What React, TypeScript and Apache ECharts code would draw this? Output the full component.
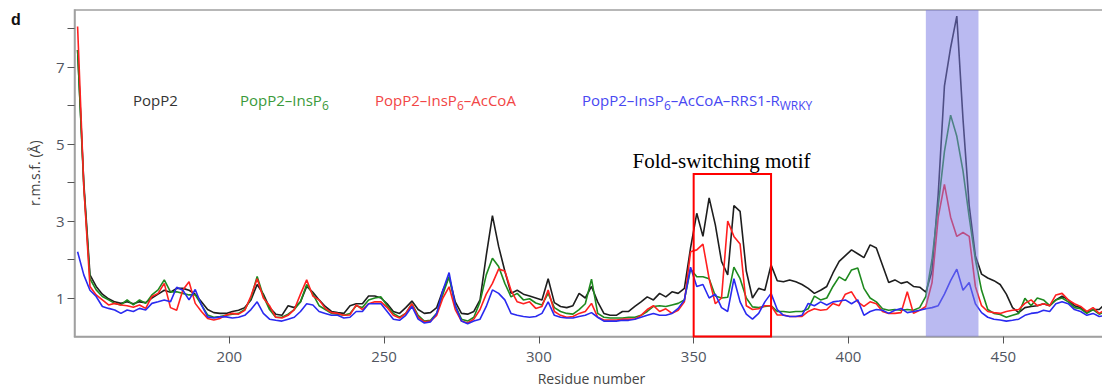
import React, { useEffect, useRef } from "react";
import * as echarts from "echarts";

// Residue numbers (x categories)
const residues = [
  151, 153, 155, 157, 159, 161, 163, 165, 167, 169, 171, 173, 175, 177, 179, 181, 183, 185, 187, 189, 191, 193, 195, 197, 199,
  201, 203, 205, 207, 209, 211, 213, 215, 217, 219, 221, 223, 225, 227, 229, 231, 233, 235, 237, 239, 241, 243, 245, 247, 249,
  251, 253, 255, 257, 259, 261, 263, 265, 267, 269, 271, 273, 275, 277, 279, 281, 283, 285, 287, 289, 291, 293, 295, 297, 299,
  301, 303, 305, 307, 309, 311, 313, 315, 317, 319, 321, 323, 325, 327, 329, 331, 333, 335, 337, 339, 341, 343, 345, 347, 349,
  351, 353, 355, 357, 359, 361, 363, 365, 367, 369, 371, 373, 375, 377, 379, 381, 383, 385, 387, 389, 391, 393, 395, 397, 399,
  401, 403, 405, 407, 409, 411, 413, 415, 417, 419, 421, 423, 425, 427, 429, 431, 433, 435, 437, 439, 441, 443, 445, 447, 449,
  451, 453, 455, 457, 459, 461, 463, 465, 467, 469, 471, 473, 475, 477, 479, 481, 483, 485,
];

// PopP2 (black)
const popP2 = [
  7.44, 4.0, 1.6, 1.3, 1.1, 0.98, 0.9, 0.86, 0.9, 0.85, 0.9, 0.88, 1.0, 1.1, 1.2, 1.15, 1.25, 1.25, 1.2, 1.1, 0.9, 0.7, 0.62, 0.6, 0.6, 0.65,
  0.68, 0.75, 0.95, 1.35, 1.1, 0.75, 0.58, 0.55, 0.8, 0.75, 0.9, 1.3, 1.15, 0.95, 0.78, 0.65, 0.62, 0.6, 0.8, 0.85,
  0.85, 1.05, 1.05, 1.0, 0.85, 0.65, 0.6, 0.75, 0.92, 0.7, 0.6, 0.62, 0.75, 1.2, 1.55, 0.9, 0.6, 0.58, 0.65,
  0.95, 2.1, 3.14, 2.34, 1.7, 1.12, 1.2, 1.1, 1.05, 1.0, 0.95, 1.5, 0.88, 0.78, 0.75,
  0.8, 1.12, 1.0, 1.3, 0.9, 0.6, 0.55, 0.55, 0.65, 0.65, 0.78, 0.9, 1.03, 0.95, 1.12, 1.03, 1.16, 1.12, 1.25,
  2.3, 3.2, 2.6, 3.6, 2.9, 1.95, 1.6, 3.4, 3.25, 1.7, 1.0, 1.25, 1.2, 1.86,
  1.45, 1.42, 1.47, 1.42, 1.35, 1.25, 1.12, 1.2, 1.3, 1.65, 1.95, 2.1, 2.25, 2.15, 2.05, 2.38, 2.3, 1.85, 1.4, 1.47, 1.38, 1.42, 1.3, 1.28, 1.15,
  1.7, 3.7, 6.5, 7.5, 8.32, 5.65, 3.4, 2.1, 1.62, 1.52, 1.45, 1.35, 1.1, 0.75,
  0.62, 0.75, 0.78, 0.8, 0.85, 0.8, 0.95, 1.05, 0.95, 0.8, 0.75, 0.62, 0.7, 0.7, 0.86, 0.75,
];

// PopP2–InsP6 (green)
const popP2InsP6 = [
  7.44, 3.9, 1.5, 1.21, 1.04, 0.95, 0.86, 0.82, 0.95, 0.82, 0.95, 0.86, 1.08, 1.21, 1.47, 1.16, 1.16, 1.12, 1.08, 1.08, 0.82, 0.56, 0.5, 0.52, 0.55, 0.58,
  0.6, 0.7, 1.0, 1.56, 1.05, 0.7, 0.5, 0.5, 0.58, 0.7, 0.9, 1.35, 1.1, 0.8, 0.7, 0.6, 0.58, 0.55, 0.6, 0.8,
  0.75, 0.95, 1.0, 1.03, 0.8, 0.6, 0.5, 0.6, 0.85, 0.55, 0.4, 0.42, 0.6, 1.1, 1.55, 0.8, 0.45, 0.4, 0.5,
  0.9, 1.6, 2.03, 1.82, 1.38, 1.03, 1.12, 0.95, 0.98, 0.87, 0.82, 1.12, 0.75, 0.65, 0.6,
  0.58, 0.7, 0.85, 1.49, 0.6, 0.5, 0.48, 0.48, 0.48, 0.5, 0.5, 0.55, 0.65, 0.78, 0.8, 0.78, 0.82, 0.86, 0.95,
  1.75, 1.55, 1.55, 1.5, 1.05, 1.0, 1.02, 1.8, 1.5, 1.0, 0.77, 0.75, 0.78, 0.8,
  0.65, 0.65, 0.63, 0.65, 0.65, 0.72, 1.05, 0.95, 1.0, 1.3, 1.55, 1.45, 1.73, 1.78, 1.25, 1.0, 0.9, 0.72, 0.68, 0.7, 0.68, 0.7, 0.68, 0.75, 1.04,
  2.0, 3.4, 4.8, 5.75, 5.2, 4.3, 3.1, 2.0, 1.2, 0.7, 0.6, 0.57, 0.5, 0.55,
  0.6, 0.99, 0.8, 1.0, 0.95, 0.8, 0.95, 1.0, 0.9, 0.75, 0.72, 0.6, 0.7, 0.58, 0.65, 0.6,
];

// PopP2–InsP6–AcCoA (red)
const popP2InsP6AcCoA = [
  8.05, 3.9, 1.3, 1.08, 0.95, 0.82, 0.86, 0.82, 0.8, 0.76, 0.82, 0.73, 1.04, 1.12, 1.38, 0.75, 0.68, 1.21, 1.42, 0.86, 0.65, 0.47, 0.43, 0.47, 0.56, 0.6,
  0.58, 0.68, 1.05, 1.5, 1.0, 0.8, 0.5, 0.48, 0.55, 0.7, 1.1, 1.47, 1.05, 0.95, 0.73, 0.62, 0.6, 0.55, 0.56, 0.82,
  0.7, 0.85, 0.9, 0.9, 0.75, 0.55, 0.48, 0.6, 0.85, 0.5, 0.38, 0.4, 0.55, 1.0, 1.29, 0.7, 0.4, 0.35, 0.45,
  0.7, 1.1, 1.38, 1.75, 1.7, 1.2, 0.9, 0.85, 0.9, 0.73, 0.78, 1.21, 0.65, 0.55, 0.5,
  0.52, 0.6, 0.65, 0.86, 0.5, 0.43, 0.43, 0.43, 0.45, 0.45, 0.45, 0.55, 0.7, 0.8, 0.65, 0.72, 0.6, 0.68, 0.9,
  2.2, 2.25, 2.4, 1.5, 0.85, 1.0, 3.0, 2.6, 2.4, 0.8, 0.7, 0.72, 0.8, 0.8,
  0.56, 0.56, 0.52, 0.52, 0.52, 0.65, 0.72, 0.68, 0.7, 0.86, 0.8, 1.1, 1.16, 0.9, 0.78, 0.9, 0.85, 0.65, 0.6, 0.6, 0.62, 1.16, 0.6, 0.68, 0.78,
  1.4, 3.1, 3.95, 3.1, 2.6, 2.7, 2.6, 1.3, 0.8, 0.65, 0.62, 0.6, 0.65, 0.68,
  0.7, 0.86, 0.95, 0.8, 0.85, 0.8, 1.08, 1.12, 0.95, 0.85, 0.78, 0.65, 0.75, 0.6, 0.7, 0.65,
];

// PopP2–InsP6–AcCoA–RRS1-R WRKY (blue)
const popP2Complex = [
  2.2, 1.6, 1.2, 1.04, 0.78, 0.73, 0.69, 0.6, 0.69, 0.65, 0.73, 0.69, 0.86, 0.9, 0.95, 0.9, 1.28, 1.2, 0.95, 1.22, 0.82, 0.51, 0.48, 0.51, 0.51, 0.48,
  0.5, 0.55, 0.7, 0.9, 0.6, 0.45, 0.42, 0.4, 0.45, 0.5, 0.65, 0.85, 0.82, 0.65, 0.6, 0.55, 0.55, 0.48, 0.5, 0.65,
  0.65, 0.85, 0.85, 0.85, 0.65, 0.45, 0.42, 0.55, 0.78, 0.45, 0.35, 0.38, 0.6, 1.2, 1.66, 0.8, 0.4, 0.33, 0.4,
  0.45, 0.78, 1.21, 1.12, 0.95, 0.6, 0.55, 0.52, 0.5, 0.52, 0.6, 0.9, 0.55, 0.5, 0.48,
  0.48, 0.52, 0.55, 0.62, 0.5, 0.4, 0.4, 0.4, 0.42, 0.42, 0.45, 0.5, 0.55, 0.6, 0.55, 0.55, 0.6, 0.73, 0.95,
  1.8, 1.3, 1.35, 1.0, 1.1, 0.75, 0.65, 1.5, 0.9, 0.58, 0.45, 0.6, 0.9, 1.12,
  0.7, 0.55, 0.52, 0.52, 0.55, 0.86, 0.8, 0.9, 0.82, 0.9, 0.92, 0.95, 0.85, 0.95, 0.55, 0.65, 0.7, 0.68, 0.6, 0.68, 0.73, 0.62, 0.65, 0.68, 0.72,
  0.75, 0.8, 1.1, 1.45, 1.75, 1.2, 1.4, 0.85, 0.62, 0.5, 0.45, 0.43, 0.4, 0.42,
  0.45, 0.55, 0.6, 0.62, 0.68, 0.65, 0.85, 0.9, 0.85, 0.7, 0.65, 0.55, 0.6, 0.52, 0.55, 0.55,
];

const xTicks = [200, 250, 300, 350, 400, 450];
const yTicks = [1, 2, 3, 4, 5, 6, 7, 8];
const yLabels = [1, 3, 5, 7];
const shadedRange = [425, 442];
// [x start, x end, top value, label anchor residue]
const motifBox = [350, 375, 4.22, 359];
const motifLabel = "Fold-switching motif";

const FONT = '"Open Sans", "Noto Sans", sans-serif';

export default function App() {
  const ref = useRef<HTMLDivElement>(null);

  useEffect(() => {
    const chart = echarts.init(ref.current!, null, { renderer: "svg" });
    const pairs = (vals: number[]) => residues.map((r, i) => [r, vals[i]]);
    const lineSeries = (name: string, vals: number[], color: string) => ({
      name,
      type: "line",
      data: pairs(vals),
      symbol: "none",
      showSymbol: false,
      silent: true,
      z: 2,
      lineStyle: { width: 1.6, color },
      itemStyle: { color },
    });

    const legendText = (x: number, main: string, sub: string, tail: string, sub2: string, color: string) => ({
      type: "text",
      x,
      y: 100,
      silent: true,
      style: {
        text:
          "{m|" + main + "}" +
          (sub ? "{s|" + sub + "}" : "") +
          (tail ? "{m|" + tail + "}" : "") +
          (sub2 ? "{s|" + sub2 + "}" : ""),
        align: "left",
        verticalAlign: "middle",
        rich: {
          m: { fontSize: 15, fontFamily: FONT, fill: color, lineHeight: 22 },
          s: { fontSize: 12, fontFamily: FONT, fill: color, lineHeight: 12, verticalAlign: "bottom" },
        },
      },
    });

    const option: any = {
      animation: false,
      backgroundColor: "#ffffff",
      grid: {
        left: 74.5,
        top: 10,
        width: 1034,
        height: 326.5,
        show: true,
        borderColor: "#a0a0a0",
        borderWidth: 1.5,
        containLabel: false,
        outerBoundsMode: "none",
      },
      xAxis: {
        type: "value",
        min: 150,
        max: 484,
        interval: 50,
        name: "Residue number",
        nameLocation: "middle",
        nameGap: 35,
        nameTextStyle: { fontSize: 14, color: "#444", fontFamily: FONT },
        axisLine: { show: true, lineStyle: { color: "#a0a0a0", width: 1.5 } },
        axisTick: { show: true, customValues: xTicks, length: 7, inside: false, lineStyle: { color: "#555", width: 1 } },
        axisLabel: {
          customValues: xTicks,
          margin: 12,
          fontSize: 15,
          color: "#505560",
          fontFamily: FONT,
          formatter: (v: number) => (xTicks.includes(v) ? String(v) : ""),
        },
        splitLine: { show: false },
      },
      yAxis: {
        type: "value",
        min: 0,
        max: 8.48,
        interval: 1,
        name: "r.m.s.f. (Å)",
        nameLocation: "middle",
        nameGap: 33,
        nameTextStyle: { fontSize: 14, color: "#444", fontFamily: FONT },
        axisLine: { show: true, lineStyle: { color: "#a0a0a0", width: 1.5 } },
        axisTick: { show: true, customValues: yTicks, length: 7, inside: false, lineStyle: { color: "#555", width: 1 } },
        axisLabel: {
          customValues: yLabels,
          margin: 10,
          fontSize: 15,
          color: "#505560",
          fontFamily: FONT,
          formatter: (v: number) => (yLabels.includes(v) ? String(v) : ""),
        },
        splitLine: { show: false },
      },
      series: [
        lineSeries("PopP2", popP2, "#1e1e1e"),
        lineSeries("PopP2–InsP6", popP2InsP6, "#1f8a1f"),
        lineSeries("PopP2–InsP6–AcCoA", popP2InsP6AcCoA, "#ff2020"),
        lineSeries("PopP2–InsP6–AcCoA–RRS1-RWRKY", popP2Complex, "#2a2af0"),
        {
          type: "custom",
          name: "shade",
          silent: true,
          z: 5,
          data: [shadedRange],
          renderItem: (params: any, api: any) => {
            const cs = params.coordSys;
            const x0 = api.coord([api.value(0), 0])[0];
            const x1 = api.coord([api.value(1), 0])[0];
            return {
              type: "rect",
              shape: { x: x0, y: cs.y, width: x1 - x0, height: cs.height },
              style: { fill: "rgba(122,122,228,0.52)" },
            };
          },
        },
        {
          type: "custom",
          name: "motif",
          silent: true,
          z: 6,
          data: [motifBox],
          renderItem: (params: any, api: any) => {
            const p0 = api.coord([api.value(0), api.value(2)]);
            const p1 = api.coord([api.value(1), 0]);
            const labelX = api.coord([api.value(3), 0])[0];
            return {
              type: "group",
              children: [
                {
                  type: "rect",
                  shape: { x: p0[0], y: p0[1], width: p1[0] - p0[0], height: p1[1] - p0[1] },
                  style: { fill: "none", stroke: "#ff0000", lineWidth: 2 },
                },
                {
                  type: "text",
                  style: {
                    text: motifLabel,
                    x: labelX,
                    y: p0[1] - 3,
                    align: "center",
                    verticalAlign: "bottom",
                    fontSize: 21,
                    fontFamily: '"Liberation Serif", "Times New Roman", serif',
                    fill: "#000",
                  },
                },
              ],
            };
          },
        },
      ],
      graphic: [
        {
          type: "text",
          x: 11,
          y: 19,
          silent: true,
          style: {
            text: "d",
            align: "left",
            verticalAlign: "middle",
            fontSize: 16,
            fontWeight: "bold",
            fontFamily: '"Liberation Sans", Arial, sans-serif',
            fill: "#111",
          },
        },
        legendText(133, "PopP2", "", "", "", "#333333"),
        legendText(240, "PopP2–InsP", "6", "", "", "#3a9a3a"),
        legendText(375, "PopP2–InsP", "6", "–AcCoA", "", "#f24545"),
        legendText(582, "PopP2–InsP", "6", "–AcCoA–RRS1-R", "WRKY", "#4848f2"),
      ],
    };

    chart.setOption(option);
    return () => chart.dispose();
  }, []);

  return (
    <div
      ref={ref}
      style={{ position: "fixed", left: 0, top: 0, width: 1102, height: 390, background: "#fff" }}
    />
  );
}
